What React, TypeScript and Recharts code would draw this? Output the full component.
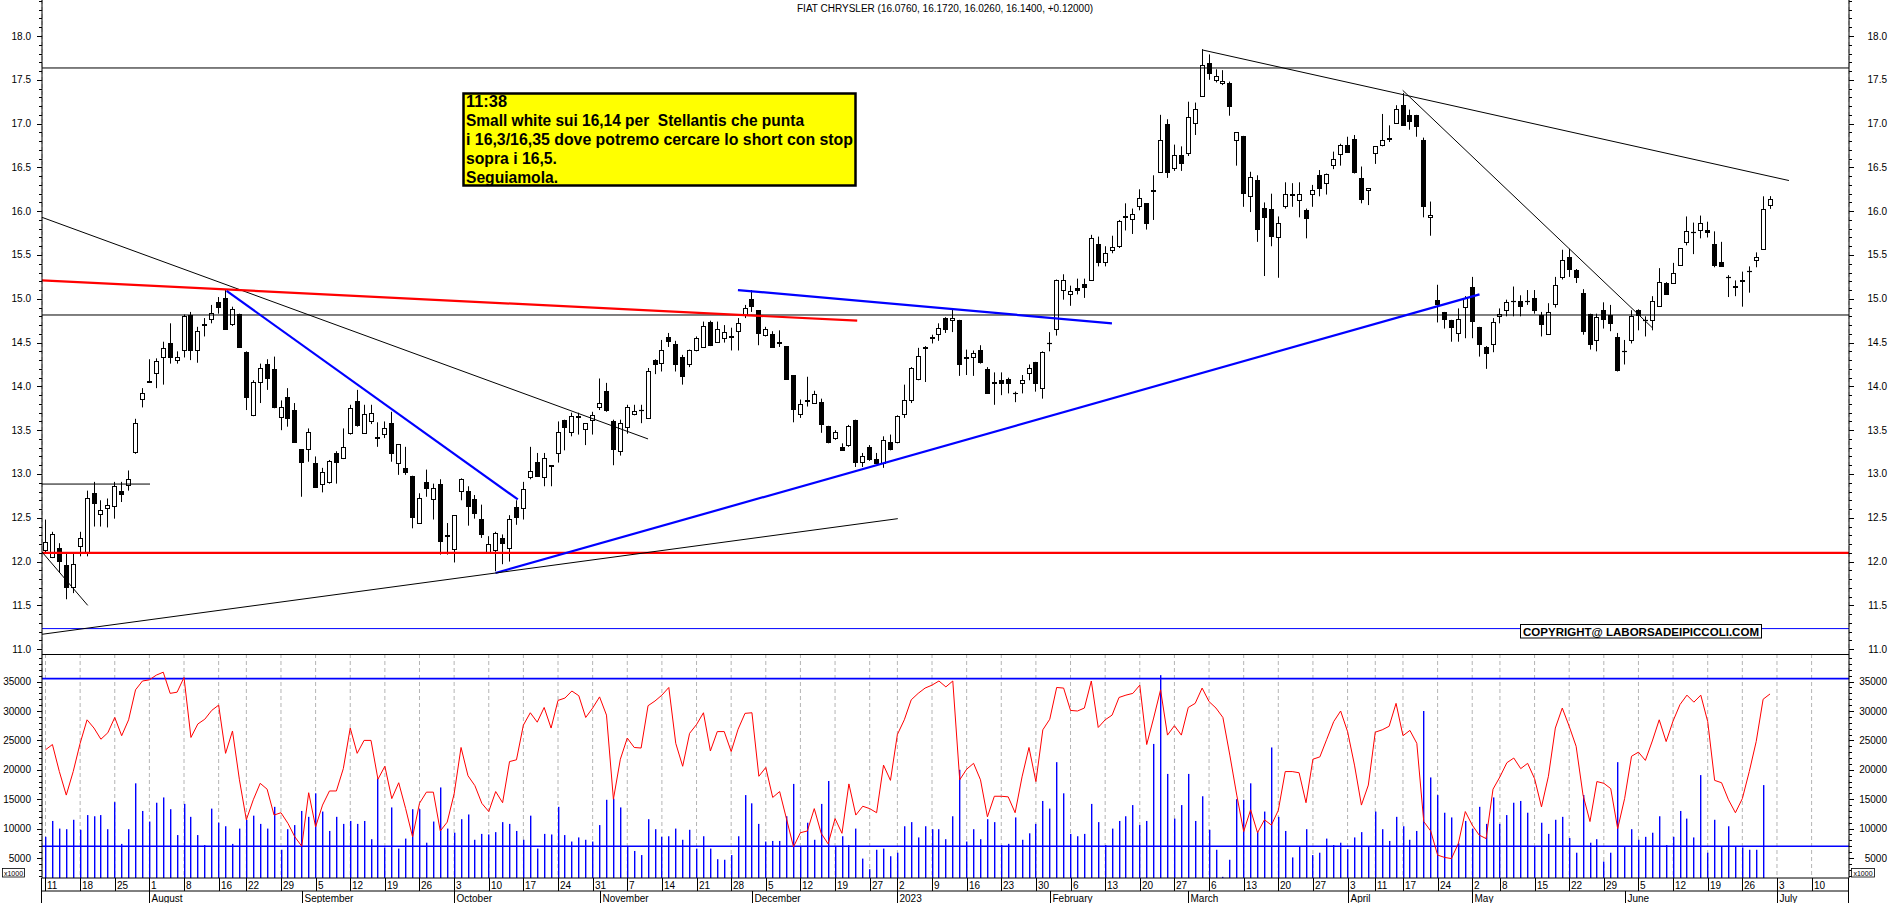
import React from "react";
import { ComposedChart, Bar, Line, XAxis, YAxis, ReferenceLine, CartesianGrid } from "recharts";

const FONT = "'Liberation Sans', Arial, Helvetica, sans-serif";

// ---- daily OHLC (trading days from 11 Jul 2022 to 30 Jun 2023) ----
const open = [
  12.13, 12.05, 12.16, 11.96, 11.71, 12.18, 12.10, 12.78, 12.54, 12.61,
  12.63, 12.81, 12.87, 13.25, 13.86, 14.06, 14.15, 14.33, 14.49, 14.30,
  14.42, 14.82, 14.42, 14.70, 14.77, 14.96, 15.01, 14.71, 14.83, 14.39,
  13.67, 14.05, 14.25, 14.20, 13.65, 13.88, 13.73, 13.28, 13.29, 13.12,
  12.88, 12.91, 13.24, 13.18, 13.47, 13.83, 13.47, 13.60, 13.42, 13.46,
  13.58, 13.13, 13.07, 12.98, 12.44, 12.91, 12.72, 12.89, 12.30, 12.14,
  12.81, 12.81, 12.72, 12.49, 12.11, 12.13, 12.27, 12.16, 12.62, 12.61,
  12.97, 13.14, 12.97, 13.10, 13.24, 13.62, 13.48, 13.66, 13.51, 13.62,
  13.76, 13.95, 13.61, 13.26, 13.54, 13.69, 13.73, 13.64, 14.30, 14.27,
  14.56, 14.48, 14.33, 14.26, 14.42, 14.45, 14.73, 14.51, 14.55, 14.57,
  14.63, 14.82, 15.00, 14.87, 14.59, 14.60, 14.51, 14.46, 14.13, 13.68,
  13.84, 13.81, 13.82, 13.55, 13.41, 13.31, 13.33, 13.62, 13.14, 13.31,
  13.17, 13.12, 13.36, 13.36, 13.69, 13.85, 14.09, 14.44, 14.56, 14.60,
  14.78, 14.76, 14.76, 14.33, 14.33, 14.41, 14.20, 14.05, 14.07, 14.09,
  13.93, 14.04, 14.15, 14.28, 13.98, 14.49, 14.66, 15.10, 15.06, 15.12,
  15.17, 15.21, 15.63, 15.42, 15.56, 15.60, 15.94, 15.91, 16.06, 16.09,
  16.24, 16.45, 17.00, 16.49, 16.64, 16.67, 17.01, 17.32, 17.69, 17.50,
  17.46, 17.46, 16.81, 16.86, 16.17, 16.36, 16.04, 16.03, 15.70, 16.06,
  16.20, 16.13, 16.01, 16.20, 16.41, 16.32, 16.53, 16.65, 16.76, 16.82,
  16.38, 16.24, 16.66, 16.76, 16.82, 17.01, 17.21, 17.10, 17.10, 16.81,
  15.93, 14.99, 14.85, 14.76, 14.61, 14.91, 15.14, 14.68, 14.45, 14.48,
  14.80, 14.87, 14.98, 14.97, 14.97, 15.01, 14.81, 14.60, 14.94, 15.25,
  15.48, 15.33, 15.07, 14.83, 14.53, 14.87, 14.82, 14.56, 14.40, 14.53,
  14.87, 14.76, 14.76, 14.92, 15.18, 15.18, 15.39, 15.65, 15.76, 15.79,
  15.79, 15.63, 15.42, 15.25, 15.15, 15.21, 15.32, 15.44, 15.57, 16.076,
];
const high = [
  12.48, 12.34, 12.21, 12.10, 12.10, 12.34, 12.81, 12.91, 12.70, 12.72,
  12.91, 12.91, 13.04, 13.63, 13.98, 14.31, 14.32, 14.51, 14.72, 14.40,
  14.82, 14.85, 14.68, 14.78, 14.93, 15.02, 15.10, 14.91, 14.83, 14.40,
  14.07, 14.26, 14.31, 14.34, 13.84, 13.98, 13.81, 13.28, 13.52, 13.20,
  13.07, 13.16, 13.26, 13.52, 13.79, 13.96, 13.79, 13.79, 13.59, 13.60,
  13.71, 13.34, 13.31, 12.98, 12.78, 13.05, 12.89, 12.94, 12.44, 12.53,
  12.95, 12.86, 12.76, 12.65, 12.29, 12.34, 12.31, 12.53, 12.70, 12.91,
  13.31, 13.24, 13.24, 13.10, 13.60, 13.62, 13.70, 13.70, 13.58, 13.71,
  14.09, 14.04, 13.62, 13.62, 13.79, 13.79, 13.79, 14.21, 14.31, 14.53,
  14.61, 14.52, 14.36, 14.42, 14.57, 14.74, 14.75, 14.74, 14.70, 14.67,
  14.78, 14.93, 15.10, 14.87, 14.68, 14.63, 14.64, 14.46, 14.13, 13.85,
  14.11, 13.95, 13.86, 13.55, 13.50, 13.35, 13.56, 13.62, 13.24, 13.33,
  13.24, 13.43, 13.45, 13.67, 14.02, 14.22, 14.44, 14.46, 14.59, 14.72,
  14.79, 14.88, 14.76, 14.42, 14.41, 14.47, 14.22, 14.16, 14.16, 14.10,
  13.94, 14.13, 14.25, 14.28, 14.40, 14.62, 15.22, 15.28, 15.15, 15.23,
  15.23, 15.73, 15.71, 15.60, 15.72, 15.90, 16.09, 16.03, 16.25, 16.09,
  16.41, 17.10, 17.05, 16.76, 16.74, 17.25, 17.24, 17.85, 17.79, 17.62,
  17.61, 17.48, 16.90, 16.86, 16.45, 16.41, 16.10, 16.20, 15.94, 16.33,
  16.32, 16.33, 16.03, 16.30, 16.47, 16.43, 16.68, 16.77, 16.85, 16.87,
  16.51, 16.26, 16.74, 17.11, 16.98, 17.21, 17.35, 17.16, 17.10, 16.84,
  16.11, 15.16, 14.85, 14.76, 14.89, 15.03, 15.25, 14.68, 14.46, 14.78,
  14.89, 14.99, 15.14, 15.04, 15.10, 15.10, 14.85, 14.95, 15.25, 15.56,
  15.57, 15.34, 15.11, 14.83, 14.83, 14.96, 14.93, 14.61, 14.53, 14.87,
  14.88, 14.80, 15.03, 15.35, 15.19, 15.41, 15.58, 15.94, 15.87, 15.95,
  15.88, 15.77, 15.65, 15.27, 15.21, 15.31, 15.37, 15.53, 16.17, 16.172,
];
const low = [
  12.10, 12.04, 11.87, 11.57, 11.64, 12.06, 12.06, 12.40, 12.40, 12.39,
  12.49, 12.68, 12.81, 13.23, 13.76, 14.04, 13.98, 14.02, 14.26, 14.26,
  14.33, 14.30, 14.27, 14.57, 14.72, 14.83, 14.66, 14.69, 14.44, 13.73,
  13.66, 13.81, 13.96, 13.75, 13.50, 13.54, 13.37, 12.74, 13.14, 12.84,
  12.79, 12.89, 12.89, 13.17, 13.45, 13.54, 13.46, 13.57, 13.31, 13.41,
  13.14, 12.99, 12.99, 12.38, 12.43, 12.74, 12.48, 12.08, 12.08, 11.99,
  12.70, 12.41, 12.49, 12.27, 12.10, 11.89, 11.97, 12.00, 12.42, 12.48,
  12.94, 12.97, 12.86, 12.86, 13.13, 13.27, 13.43, 13.45, 13.33, 13.45,
  13.73, 13.71, 13.10, 13.21, 13.46, 13.67, 13.58, 13.64, 14.14, 14.17,
  14.45, 14.17, 14.02, 14.22, 14.40, 14.44, 14.46, 14.50, 14.50, 14.41,
  14.41, 14.78, 14.85, 14.47, 14.57, 14.44, 14.45, 14.08, 13.59, 13.64,
  13.77, 13.80, 13.47, 13.35, 13.39, 13.27, 13.31, 13.08, 13.08, 13.15,
  13.12, 13.07, 13.27, 13.35, 13.64, 13.81, 14.07, 14.05, 14.49, 14.52,
  14.61, 14.62, 14.12, 14.13, 14.12, 14.26, 13.92, 13.79, 13.90, 13.92,
  13.82, 13.92, 14.07, 13.94, 13.86, 14.40, 14.58, 14.99, 14.92, 15.05,
  15.01, 15.21, 15.37, 15.37, 15.52, 15.58, 15.78, 15.74, 16.01, 15.79,
  15.90, 16.45, 16.38, 16.46, 16.46, 16.63, 16.87, 17.32, 17.50, 17.47,
  17.44, 17.09, 16.52, 16.05, 15.99, 15.65, 15.26, 15.60, 15.24, 16.03,
  16.05, 15.93, 15.69, 16.05, 16.17, 16.19, 16.48, 16.52, 16.67, 16.43,
  16.09, 16.07, 16.54, 16.74, 16.79, 17.00, 16.98, 16.93, 16.85, 15.93,
  15.72, 14.73, 14.66, 14.51, 14.51, 14.55, 14.55, 14.34, 14.20, 14.39,
  14.72, 14.80, 14.80, 14.80, 14.93, 14.83, 14.57, 14.60, 14.90, 15.22,
  15.25, 15.18, 14.59, 14.42, 14.40, 14.66, 14.63, 14.17, 14.25, 14.49,
  14.64, 14.57, 14.64, 14.92, 15.06, 15.18, 15.38, 15.61, 15.51, 15.69,
  15.70, 15.36, 15.38, 15.02, 15.03, 14.91, 15.07, 15.36, 15.56, 16.026,
];
const close = [
  12.22, 12.32, 12.01, 11.71, 11.97, 12.27, 12.73, 12.67, 12.59, 12.65,
  12.86, 12.77, 12.94, 13.58, 13.93, 14.05, 14.29, 14.44, 14.34, 14.34,
  14.80, 14.42, 14.63, 14.71, 14.84, 14.91, 14.66, 14.88, 14.45, 13.88,
  14.05, 14.21, 14.10, 13.76, 13.77, 13.64, 13.37, 13.14, 13.48, 12.85,
  13.02, 13.15, 13.14, 13.31, 13.75, 13.56, 13.68, 13.70, 13.41, 13.52,
  13.24, 13.34, 13.02, 12.51, 12.73, 12.84, 12.84, 12.23, 12.29, 12.53,
  12.94, 12.64, 12.55, 12.32, 12.20, 12.33, 12.21, 12.49, 12.51, 12.83,
  13.03, 12.98, 13.18, 13.09, 13.48, 13.54, 13.66, 13.65, 13.58, 13.67,
  13.81, 13.73, 13.29, 13.58, 13.77, 13.72, 13.73, 14.18, 14.25, 14.42,
  14.52, 14.26, 14.12, 14.42, 14.55, 14.69, 14.47, 14.66, 14.62, 14.56,
  14.72, 14.90, 14.92, 14.61, 14.66, 14.45, 14.50, 14.09, 13.74, 13.80,
  13.83, 13.91, 13.57, 13.37, 13.48, 13.27, 13.55, 13.14, 13.20, 13.17,
  13.13, 13.39, 13.28, 13.66, 13.85, 14.21, 14.35, 14.45, 14.55, 14.67,
  14.66, 14.78, 14.25, 14.32, 14.38, 14.28, 13.93, 14.04, 14.04, 14.04,
  13.92, 14.07, 14.21, 14.04, 14.39, 14.49, 15.22, 15.21, 15.09, 15.10,
  15.14, 15.69, 15.42, 15.52, 15.59, 15.89, 15.93, 15.97, 16.15, 15.87,
  16.23, 16.81, 16.45, 16.64, 16.55, 17.07, 17.17, 17.67, 17.58, 17.54,
  17.49, 17.20, 16.90, 16.21, 16.39, 15.80, 15.93, 15.72, 15.86, 16.20,
  16.19, 16.20, 15.92, 16.24, 16.26, 16.42, 16.60, 16.76, 16.68, 16.45,
  16.14, 16.26, 16.74, 16.81, 16.84, 17.17, 16.98, 17.03, 16.97, 16.06,
  15.96, 14.94, 14.77, 14.68, 14.77, 15.01, 14.75, 14.48, 14.38, 14.74,
  14.83, 14.96, 14.98, 14.92, 14.97, 14.87, 14.71, 14.85, 15.16, 15.44,
  15.34, 15.25, 14.63, 14.48, 14.79, 14.77, 14.72, 14.19, 14.40, 14.80,
  14.82, 14.76, 14.97, 15.19, 15.06, 15.30, 15.58, 15.77, 15.76, 15.86,
  15.76, 15.39, 15.38, 15.25, 15.13, 15.20, 15.32, 15.48, 16.02, 16.14,
];

// ---- volume (units, axis labelled x1000) ----
const volume = [
  8600, 11300, 10000, 9900, 11500, 9800, 12300, 12100, 12300, 9900,
  14500, 7400, 9900, 17700, 13000, 11200, 14400, 15300, 13300, 8900,
  14200, 12000, 8900, 7200, 13400, 11000, 10400, 7400, 10000, 11500,
  12200, 10800, 10000, 13700, 6400, 9900, 10600, 13000, 12000, 16000,
  12900, 9600, 12000, 10800, 11300, 10800, 11300, 8200, 18500, 6800,
  13600, 6600, 8300, 13300, 13300, 7600, 11200, 17000, 10000, 9300,
  11600, 12400, 8100, 9100, 9000, 9400, 11100, 10800, 9600, 8100,
  12200, 6600, 9100, 9000, 13700, 8900, 7800, 8500, 8100, 7800,
  10600, 14900, 15100, 13600, 6900, 6200, 5500, 11600, 9900, 8600,
  8700, 10000, 8100, 9800, 6600, 8700, 6600, 4800, 4700, 5500,
  8700, 15700, 14300, 10800, 7800, 7900, 7900, 12100, 17600, 6900,
  11000, 8100, 14200, 18100, 6900, 8700, 7200, 10000, 4900, 3100,
  6400, 6600, 5300, 5900, 10400, 11100, 8500, 10400, 9900, 9900,
  8200, 12100, 20000, 7800, 9900, 8200, 11600, 11100, 7200, 7400,
  11900, 8100, 9200, 10800, 14700, 13400, 21300, 16000, 9100, 8700,
  9100, 14200, 11100, 7200, 10000, 11300, 12100, 14000, 10600, 11300,
  24400, 36100, 19300, 11700, 14000, 19300, 11300, 15500, 9800, 6400,
  1800, 4700, 15000, 14900, 17700, 9500, 12900, 23800, 12000, 9600,
  5100, 6900, 9900, 5500, 5900, 8300, 7200, 7600, 6500, 8500,
  9400, 6900, 12900, 9900, 7900, 12000, 10400, 8100, 9600, 30000,
  18700, 15700, 12700, 11900, 7500, 11300, 10000, 13700, 10800, 15300,
  10800, 12300, 14400, 14700, 12700, 6900, 11000, 9100, 11500, 12000,
  8400, 5900, 15700, 7600, 8200, 4400, 5900, 21300, 6900, 9900,
  8100, 8600, 9300, 12100, 7200, 8600, 13000, 11700, 8500, 19100,
  5900, 11500, 6900, 10400, 6900, 6800, 6400, 6400, 17400, null,
];

// ---- red oscillator drawn on the volume scale ----
const osc = [
  23400, 24300, 19700, 15700, 19700, 24500, 28500, 27100, 25200, 26300,
  28900, 25800, 28500, 33600, 35100, 35300, 36100, 36600, 33000, 33200,
  35700, 25500, 27800, 28600, 30100, 31000, 22800, 26600, 18300, 11500,
  14900, 17700, 16700, 12300, 12700, 10900, 8600, 7000, 16100, 10300,
  14000, 16400, 16400, 20200, 27100, 22800, 25000, 25000, 18400, 20600,
  15100, 17800, 13400, 8600, 14300, 16200, 16200, 9600, 11100, 15900,
  23800, 19000, 17300, 14300, 12900, 16300, 14400, 21400, 21700, 27600,
  29700, 28100, 30600, 27100, 31800, 32200, 33400, 32600, 28900, 30500,
  32400, 29300, 15000, 21800, 25400, 23800, 23700, 30900, 31700, 32700,
  34000, 24500, 20600, 26200, 27700, 29700, 23200, 26500, 26500, 23100,
  26900, 29600, 29700, 18900, 20400, 15300, 16300, 11600, 6900, 9300,
  9600, 13400, 9200, 7400, 11700, 9200, 17600, 12300, 13800, 13400,
  12700, 20800, 18200, 26000, 28500, 31900, 33000, 33900, 34400, 35100,
  34100, 35100, 18300, 20100, 21100, 18300, 12000, 15500, 15500, 15400,
  12700, 18800, 23800, 18000, 26800, 28600, 34000, 33900, 30100, 30000,
  30500, 35100, 27200, 28500, 29300, 32300, 32700, 33000, 34400, 24300,
  28800, 33600, 25900, 27500, 25900, 30600, 31300, 33900, 31600, 30500,
  28900, 22500, 15700, 9500, 13200, 9300, 11500, 10600, 13100, 19700,
  19700, 19500, 14400, 21800, 22200, 25200, 28200, 30000, 26500, 20800,
  14000, 17400, 26400, 26800, 27400, 31300, 25800, 26700, 24500, 11200,
  9600, 5500, 5100, 4900, 7500, 12900, 10600, 8900, 8300, 16700,
  18800, 21200, 22000, 20200, 21100, 18500, 13700, 18900, 27100, 30500,
  27400, 24000, 15700, 11200, 18000, 17700, 16800, 10000, 15100, 22300,
  23000, 21600, 24900, 28500, 24800, 28300, 31100, 32700, 31500, 32700,
  28200, 18200, 17800, 14900, 12700, 15100, 19700, 24800, 32000, 32900,
];

// ---- time axis: first trading day of each week / month (as trading-day index) ----
const weekIdx = [0, 5, 10, 15, 20, 25, 29, 34, 39, 44, 49, 54, 59, 64, 69, 74, 79, 84, 89, 94, 99, 104, 109, 114, 119, 123, 128, 133, 138, 143, 148, 153, 158, 163, 168, 173, 178, 183, 188, 192, 196, 201, 206, 210, 215, 220, 225, 230, 235, 240, 245, 250, 255];
const weekLabels = ["11", "18", "25", "1", "8", "16", "22", "29", "5", "12", "19", "26", "3", "10", "17", "24", "31", "7", "14", "21", "28", "5", "12", "19", "27", "2", "9", "16", "23", "30", "6", "13", "20", "27", "6", "13", "20", "27", "3", "11", "17", "24", "2", "8", "15", "22", "29", "5", "12", "19", "26", "3", "10"];
const monthIdx = [15, 37, 59, 80, 102, 123, 145, 165, 188, 206, 228, 250];
const monthLabels = ["August", "September", "October", "November", "December", "2023", "February", "March", "April", "May", "June", "July"];

// ---- axis ticks ----
const priceLabels = [11, 11.5, 12, 12.5, 13, 13.5, 14, 14.5, 15, 15.5, 16, 16.5, 17, 17.5, 18];
const priceMinor = Array.from({ length: 75 }, (_, k) => Math.round(110 + k) / 10);
const volumeLabels = [5000, 10000, 15000, 20000, 25000, 30000, 35000];
const volumeMinor = Array.from({ length: 38 }, (_, k) => 2000 + k * 1000);

// ---- drawn annotations (in data space: trading-day index, price) ----
const priceLevels = [
  { p: 17.635, color: "#000000", w: 1 },
  { p: 14.815, color: "#000000", w: 1 },
  { p: 12.1, color: "#ff0000", w: 2.2 },
  { p: 11.235, color: "#0000ff", w: 1 },
];
const trendLines = [
  { a: [-0.505, 15.93], b: [87.0, 13.4], color: "#000000", w: 1 },
  { a: [-0.505, 15.21], b: [117.2, 14.75], color: "#ff0000", w: 2.2 },
  { a: [26.15, 15.09], b: [68.2, 12.71], color: "#0000ff", w: 2.2 },
  { a: [64.97, 11.87], b: [207.05, 15.05], color: "#0000ff", w: 2.2 },
  { a: [99.98, 15.1], b: [153.98, 14.72], color: "#0000ff", w: 2.2 },
  { a: [-0.505, 11.17], b: [123.06, 12.49], color: "#000000", w: 1 },
  { a: [-0.505, 12.11], b: [6.1, 11.5], color: "#000000", w: 1 },
  { a: [167.08, 17.84], b: [251.73, 16.35], color: "#000000", w: 1 },
  { a: [195.96, 17.38], b: [232.06, 14.665], color: "#000000", w: 1 },
  { a: [-0.505, 12.885], b: [15.09, 12.885], color: "#000000", w: 1 },
];
const volumeLevels = [35500, 7000];

const noteLines = [
  "11:38",
  "Small white sui 16,14 per  Stellantis che punta",
  "i 16,3/16,35 dove potremo cercare lo short con stop",
  "sopra i 16,5.",
  "Seguiamola.",
];
const noteWidths = [41, 338, 387, 91, 92];
const noteBase = [106.5, 125.5, 144.5, 163.5, 182.5];

const XMIN = -0.505;
const XMAX = 260.4;
const PMIN = 10.945;
const PMAX = 18.411;
const VMIN = 1599;
const VMAX = 39694;

function Candle(props: any) {
  const { x, y, width, height, payload } = props;
  if (!payload || x == null || y == null || !isFinite(y)) return null;
  const { o, h, l, c } = payload;
  const cx = Math.round(x + width / 2);
  const ppu = h > l ? height / (h - l) : 0;
  const py = (p: number) => y + (h - p) * ppu;
  const up = c >= o;
  const top = Math.round(py(Math.max(o, c))) + 0.5;
  const bot = Math.round(py(Math.min(o, c))) + 0.5;
  return (
    <g>
      <line x1={cx + 0.5} x2={cx + 0.5} y1={y} y2={y + height} stroke="#000" strokeWidth={1} />
      {bot - top < 1 ? (
        <line x1={cx - 2} x2={cx + 3} y1={top} y2={top} stroke="#000" strokeWidth={1.2} />
      ) : (
        <rect x={cx - 1.5} y={top} width={4} height={bot - top} fill={up ? "#ffffff" : "#000000"} stroke="#000" strokeWidth={1} />
      )}
    </g>
  );
}

function VolBar(props: any) {
  const { x, y, width, height } = props;
  if (x == null || y == null || !isFinite(y) || !height || height <= 0) return null;
  const cx = Math.round(x + width / 2);
  return <rect x={cx} y={y} width={1.4} height={height} fill="#0000ff" />;
}

function AxisTick(props: any) {
  const { x, y, payload, side, labels, fmt } = props;
  const v = payload.value;
  const major = labels.some((m: number) => Math.abs(m - v) < 1e-6);
  const len = major ? 5 : 3;
  const yy = Math.round(y) + 0.5;
  const left = side === "left";
  return (
    <g>
      <line x1={left ? x - len : x} x2={left ? x : x + len} y1={yy} y2={yy} stroke="#000" strokeWidth={1} />
      {major && (
        <text x={left ? x - 11 : x + 38} y={y + 3.5} textAnchor="end" fontSize={10} fontFamily={FONT} fill="#000">
          {fmt(v)}
        </text>
      )}
    </g>
  );
}

function DayTick(props: any) {
  const { x, y, payload } = props;
  const k = weekIdx.indexOf(payload.value);
  const xx = Math.round(x) + 0.5;
  return (
    <g>
      <line x1={xx} x2={xx} y1={y} y2={y + 13} stroke="#000" strokeWidth={1} />
      <text x={xx + 1.5} y={y + 10.5} fontSize={10} fontFamily={FONT} fill="#000">
        {k >= 0 ? weekLabels[k] : ""}
      </text>
    </g>
  );
}

function MonthTick(props: any) {
  const { x, y, payload } = props;
  const k = monthIdx.indexOf(payload.value);
  const xx = Math.round(x) + 0.5;
  return (
    <g>
      <line x1={xx} x2={xx} y1={y} y2={y + 12} stroke="#000" strokeWidth={1} />
      <text x={xx + 2} y={y + 11} fontSize={10} fontFamily={FONT} fill="#000">
        {k >= 0 ? monthLabels[k] : ""}
      </text>
    </g>
  );
}

const fmtPrice = (v: number) => v.toFixed(1);
const fmtVol = (v: number) => String(v);

export default function App() {
  const priceData = open.map((o, i) => ({ i, o, h: high[i], l: low[i], c: close[i] }));
  const volData = volume.map((v, i) => ({ i, v, osc: osc[i] }));

  return (
    <div style={{ position: "absolute", left: 0, top: 0, width: 1890, height: 903, background: "#ffffff", overflow: "hidden", fontFamily: FONT }}>
      <div style={{ position: "absolute", left: 0, top: 0 }}>
        <ComposedChart width={1890} height={654} data={priceData} margin={{ top: 0, right: 0, bottom: 0, left: 0 }}>
          <CartesianGrid yAxisId="p" horizontal={false} vertical={true} stroke="#b4b4b4" strokeDasharray="4 3" />
          <XAxis dataKey="i" type="number" domain={[XMIN, XMAX]} allowDataOverflow ticks={weekIdx} interval={0} height={0} tick={false} tickLine={false} axisLine={false} />
          <YAxis yAxisId="p" orientation="left" width={42} type="number" domain={[PMIN, PMAX]} allowDataOverflow ticks={priceMinor} interval={0} tickSize={0} tickMargin={0} tickLine={false} axisLine={{ stroke: "#000" }} tick={<AxisTick side="left" labels={priceLabels} fmt={fmtPrice} />} />
          <YAxis yAxisId="pr" orientation="right" width={41} type="number" domain={[PMIN, PMAX]} allowDataOverflow ticks={priceMinor} interval={0} tickSize={0} tickMargin={0} tickLine={false} axisLine={{ stroke: "#000" }} tick={<AxisTick side="right" labels={priceLabels} fmt={fmtPrice} />} />
          {priceLevels.map((lv, k) => (
            <ReferenceLine key={"lv" + k} yAxisId="p" y={lv.p} stroke={lv.color} strokeWidth={lv.w} ifOverflow="visible" />
          ))}
          {trendLines.map((t, k) => (
            <ReferenceLine key={"tl" + k} yAxisId="p" segment={[{ x: t.a[0], y: t.a[1] }, { x: t.b[0], y: t.b[1] }]} stroke={t.color} strokeWidth={t.w} ifOverflow="visible" />
          ))}
          <Bar yAxisId="p" dataKey={(d: any) => [d.l, d.h]} barSize={6} shape={(p: any) => <Candle {...p} />} isAnimationActive={false} />
        </ComposedChart>
      </div>

      <div style={{ position: "absolute", left: 0, top: 654 }}>
        <ComposedChart width={1890} height={249} data={volData} margin={{ top: 0, right: 0, bottom: 0, left: 0 }}>
          <CartesianGrid yAxisId="v" horizontal={false} vertical={true} stroke="#b4b4b4" strokeDasharray="4 3" />
          <XAxis xAxisId={0} dataKey="i" type="number" domain={[XMIN, XMAX]} allowDataOverflow ticks={weekIdx} interval={0} height={13} tickSize={0} tickMargin={0} tickLine={false} axisLine={{ stroke: "#000" }} tick={<DayTick />} />
          <XAxis xAxisId="m" dataKey="i" type="number" domain={[XMIN, XMAX]} allowDataOverflow ticks={monthIdx} interval={0} height={12} tickSize={0} tickMargin={0} tickLine={false} axisLine={{ stroke: "#000" }} tick={<MonthTick />} />
          <YAxis yAxisId="v" orientation="left" width={42} type="number" domain={[VMIN, VMAX]} allowDataOverflow ticks={volumeMinor} interval={0} tickSize={0} tickMargin={0} tickLine={false} axisLine={{ stroke: "#000" }} tick={<AxisTick side="left" labels={volumeLabels} fmt={fmtVol} />} />
          <YAxis yAxisId="vr" orientation="right" width={41} type="number" domain={[VMIN, VMAX]} allowDataOverflow ticks={volumeMinor} interval={0} tickSize={0} tickMargin={0} tickLine={false} axisLine={{ stroke: "#000" }} tick={<AxisTick side="right" labels={volumeLabels} fmt={fmtVol} />} />
          <Bar yAxisId="v" dataKey="v" barSize={2} shape={(p: any) => <VolBar {...p} />} isAnimationActive={false} />
          {volumeLevels.map((v, k) => (
            <ReferenceLine key={"vl" + k} yAxisId="v" y={v} stroke="#0000ff" strokeWidth={1.6} ifOverflow="visible" />
          ))}
          <Line yAxisId="v" dataKey="osc" type="linear" stroke="#ff0000" strokeWidth={1} dot={false} activeDot={false} isAnimationActive={false} />
        </ComposedChart>
      </div>

      {/* panel separator and axis continuation */}
      <div style={{ position: "absolute", left: 42, top: 654, width: 1807, height: 1, background: "#000" }} />
      <div style={{ position: "absolute", left: 41, top: 878, width: 1, height: 25, background: "#000" }} />
      <div style={{ position: "absolute", left: 1848, top: 878, width: 1, height: 25, background: "#000" }} />

      <svg width={1890} height={903} style={{ position: "absolute", left: 0, top: 0, pointerEvents: "none" }}>
        <text x={797} y={12} fontSize={10} fontFamily={FONT} fill="#000">
          FIAT CHRYSLER (16.0760, 16.1720, 16.0260, 16.1400, +0.12000)
        </text>
        <rect x={463.5} y={93.5} width={392} height={92} fill="#ffff00" stroke="#000" strokeWidth={2.5} />
        {noteLines.map((t, k) => (
          <text key={k} x={466} y={noteBase[k]} fontSize={16} fontWeight="bold" fontFamily={FONT} fill="#000" textLength={noteWidths[k]} lengthAdjust="spacingAndGlyphs" style={{ whiteSpace: "pre" }}>
            {t}
          </text>
        ))}
        <rect x={1520.5} y={624.5} width={241} height={13.5} fill="#ffffff" stroke="#000" strokeWidth={1} />
        <text x={1523} y={636} fontSize={11.4} fontWeight="bold" fontFamily={FONT} fill="#000" textLength={236} lengthAdjust="spacingAndGlyphs">
          COPYRIGHT@ LABORSADEIPICCOLI.COM
        </text>
        <rect x={2.5} y={868.5} width={22} height={8.5} fill="#ffffff" stroke="#000" strokeWidth={0.8} />
        <text x={13.5} y={875.5} fontSize={7} textAnchor="middle" fontFamily={FONT} fill="#000">x1000</text>
        <rect x={1851.5} y={868.5} width={23} height={8.5} fill="#ffffff" stroke="#000" strokeWidth={0.8} />
        <text x={1863} y={875.5} fontSize={7} textAnchor="middle" fontFamily={FONT} fill="#000">x1000</text>
      </svg>
    </div>
  );
}
